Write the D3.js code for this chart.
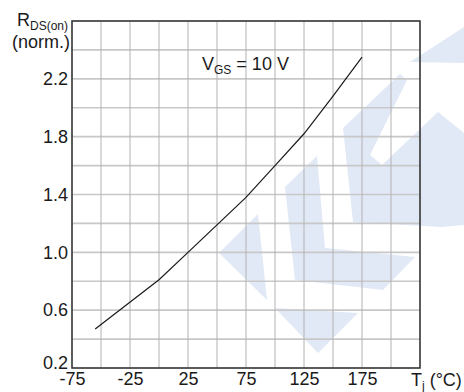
<!DOCTYPE html>
<html>
<head>
<meta charset="utf-8">
<script src="https://cdn.jsdelivr.net/npm/d3@7"></script>
<style>
  body { margin: 0; background: #fff; }
  svg text { font-family: "Liberation Sans", Arial, sans-serif; fill: #1a1a1a; }
</style>
</head>
<body>
<div id="chart"></div>
<script>
// junction temperature (°C) and normalised on-resistance
var tempC = [-55, 0, 25, 75, 100, 125, 150, 175];
var rdsNorm = [0.47, 0.81, 1.0, 1.38, 1.60, 1.82, 2.08, 2.35];

var xTicks = [-75, -25, 25, 75, 125, 175];
var yTicks = [0.2, 0.6, 1.0, 1.4, 1.8, 2.2];
var xGrid = d3.range(-75, 226, 25);
var yGrid = d3.range(0, 13).map(i => +(0.2 + i * 0.2).toFixed(1));

var width = 464, height = 392;
var margin = {top: 21, right: 44, bottom: 24, left: 72};

const svg = d3.select("#chart")
  .append("svg")
    .attr("width", width)
    .attr("height", height);

const x = d3.scaleLinear()
  .domain([-75, 225])
  .range([margin.left, width - margin.right]);

const y = d3.scaleLinear()
  .domain([0.2, 2.6])
  .range([height - margin.bottom, margin.top]);

// faint logo watermark behind the grid
var wm = [
  [[219,253],[258,214],[267,300]],
  [[275,308],[358,313],[318,353]],
  [[285,187],[317,156],[325,248],[415,257],[383,290],[295,280]],
  [[343,128],[400,74],[407,80],[370,155],[382,165],[438,112],[464,133],[464,225],[442,227],[353,222]],
  [[410,62],[464,27],[464,63]]
];
svg.append("g").selectAll("polygon")
  .data(wm)
  .join("polygon")
    .attr("points", d => d.map(p => p.join(",")).join(" "))
    .attr("fill", "#e2e9f6");

// grid
svg.append("g").selectAll("line")
  .data(yGrid)
  .join("line")
    .attr("x1", x(-75)).attr("x2", x(225))
    .attr("y1", d => y(d)).attr("y2", d => y(d))
    .attr("stroke", "#c8c8c8")
    .attr("stroke-width", 1.6);

svg.append("g").selectAll("line")
  .data(xGrid)
  .join("line")
    .attr("x1", d => x(d)).attr("x2", d => x(d))
    .attr("y1", y(0.2)).attr("y2", y(2.6))
    .attr("stroke", "#b2b2b2")
    .attr("stroke-width", 1);

// frame
svg.append("rect")
  .attr("x", x(-75)).attr("y", y(2.6))
  .attr("width", x(225) - x(-75))
  .attr("height", y(0.2) - y(2.6))
  .attr("fill", "none")
  .attr("stroke", "#333")
  .attr("stroke-width", 1.5);

// axes (labels only)
const xAxis = svg.append("g")
  .attr("transform", `translate(0, ${y(0.2)})`)
  .call(d3.axisBottom(x).tickValues(xTicks).tickSize(0).tickPadding(4).tickFormat(d => String(d)));
xAxis.select(".domain").remove();
xAxis.selectAll("text").style("font-size", "18px").attr("fill", "#1a1a1a");

const yAxis = svg.append("g")
  .attr("transform", `translate(${x(-75)}, 0)`)
  .call(d3.axisLeft(y).tickValues(yTicks).tickSize(0).tickPadding(4).tickFormat(d3.format(".1f")));
yAxis.select(".domain").remove();
yAxis.selectAll("text").style("font-size", "18px").attr("fill", "#1a1a1a")
  .attr("dy", d => d === 0.2 ? "0" : "0.32em");

// curve
const line = d3.line()
  .x((d, i) => x(tempC[i]))
  .y(d => y(d));

svg.append("path")
  .datum(rdsNorm)
  .attr("fill", "none")
  .attr("stroke", "#1a1a1a")
  .attr("stroke-width", 1.2)
  .attr("d", line);

// titles
var t1 = svg.append("text").attr("x", 17).attr("y", 26).style("font-size", "18px");
t1.append("tspan").text("R");
t1.append("tspan").attr("dy", 4).style("font-size", "12px").text("DS(on)");

svg.append("text")
  .attr("x", 70).attr("y", 48)
  .attr("text-anchor", "end")
  .style("font-size", "18px")
  .text("(norm.)");

var t2 = svg.append("text").attr("x", 411).attr("y", 386).style("font-size", "18px");
t2.append("tspan").text("T");
t2.append("tspan").attr("dy", 4).style("font-size", "12px").text("j");
t2.append("tspan").attr("dy", -4).text(" (°C)");

var t3 = svg.append("text").attr("x", 202).attr("y", 70).style("font-size", "18px");
t3.append("tspan").text("V");
t3.append("tspan").attr("dy", 4).style("font-size", "12px").text("GS");
t3.append("tspan").attr("dy", -4).text(" = 10 V");
</script>
</body>
</html>
